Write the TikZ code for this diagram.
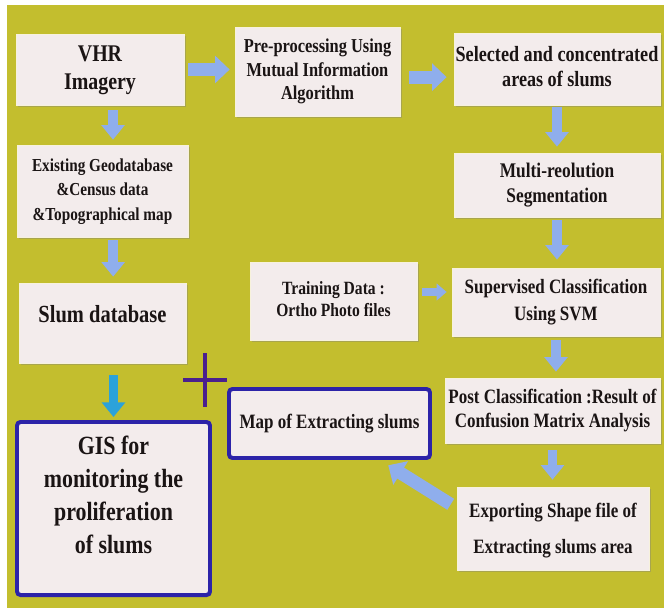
\documentclass[tikz,border=0pt]{standalone}
\usepackage{graphicx}
\usepackage{fontspec}
\setmainfont{Liberation Serif}
\usetikzlibrary{arrows.meta,shadows}
\definecolor{PageWhite}{HTML}{FFFFFF}
\definecolor{Olive}{HTML}{C3BE2E}
\definecolor{BoxFill}{HTML}{F3ECEC}
\definecolor{BoxEdge}{HTML}{F7F2DC}
\definecolor{InkBlack}{HTML}{1A1414}
\definecolor{ArrowBlue}{HTML}{8FAEEC}
\definecolor{FrameBlue}{HTML}{2C23A8}
\definecolor{CyanArrow}{HTML}{2BA2DA}
\definecolor{PlusPurple}{HTML}{4A1F8E}
% taller lettering, as in the slide
\newcommand{\tallcell}[1]{\scalebox{1}[1.2]{\begin{tabular}{@{}c@{}}#1\end{tabular}}}

\begin{document}
\begin{tikzpicture}[x=0.03cm, y=-0.03cm]
  \tikzstyle{card} = [rectangle, draw=BoxEdge, line width=0.6pt, fill=BoxFill, inner sep=0pt, align=center, text=InkBlack, drop shadow={shadow xshift=1.5pt, shadow yshift=-1.5pt, opacity=0.4}]
  \tikzstyle{framed} = [card, draw=FrameBlue, line width=3.4pt, rounded corners=3pt]
  \tikzstyle{flowdown} = [draw=ArrowBlue, line width=8.5pt, -{Triangle[width=19.5pt, length=12.5pt]}]
  \tikzstyle{flowright} = [draw=ArrowBlue, line width=11pt, -{Triangle[width=23pt, length=12.5pt]}]
  \tikzstyle{flowsmall} = [draw=ArrowBlue, line width=6.5pt, -{Triangle[width=14pt, length=8.5pt]}]

  % page and backdrop
  \fill[PageWhite] (0,0) rectangle (664,611);
  \fill[Olive] (7,5) rectangle (664,608);
  \useasboundingbox (0,0) rectangle (664,611);

  % left column
  \node [card, minimum width=5.04cm, minimum height=2.13cm, font=\bfseries\fontsize{17}{20}\selectfont] (vhr) at (100,69.5) {\tallcell{VHR\\Imagery}};
  \node [card, minimum width=5.13cm, minimum height=2.76cm, font=\bfseries\fontsize{13}{17.5}\selectfont] (exist) at (102.5,191) {\tallcell{Existing Geodatabase\\\&Census data\\\&Topographical map}};
  \node [card, minimum width=5.01cm, minimum height=2.4cm, font=\bfseries\fontsize{17.5}{20}\selectfont] (slum) at (102.5,323) {\tallcell{Slum database\\[0.3cm]}};
  \node [framed, minimum width=5.79cm, minimum height=5.19cm, font=\bfseries\fontsize{18.7}{23.3}\selectfont] (gis) at (113.5,508.5) {\tallcell{GIS for\\monitoring the\\proliferation\\of slums\\[0.55cm]}};

  % middle column
  \node [card, minimum width=4.95cm, minimum height=2.67cm, font=\bfseries\fontsize{14}{16.7}\selectfont] (pre) at (317.5,71.5) {\tallcell{Pre-processing Using\\Mutual Information\\Algorithm}};
  \node [card, minimum width=5.01cm, minimum height=2.34cm, font=\bfseries\fontsize{13.3}{15.4}\selectfont] (train) at (333.5,301) {\tallcell{Training Data :\\Ortho Photo files}};
  \node [framed, minimum width=6.03cm, minimum height=2.07cm, font=\bfseries\fontsize{14.5}{17.5}\selectfont] (map) at (329.5,423.5) {\tallcell{Map of Extracting slums}};

  % right column
  \node [card, minimum width=6.18cm, minimum height=2.16cm, font=\bfseries\fontsize{15.5}{17.5}\selectfont] (sel) at (557,69) {\tallcell{Selected and concentrated\\areas of slums}};
  \node [card, minimum width=6.18cm, minimum height=1.92cm, font=\bfseries\fontsize{14.8}{17.5}\selectfont] (multi) at (557,185) {\tallcell{Multi-reolution\\Segmentation}};
  \node [card, minimum width=6.24cm, minimum height=2.04cm, font=\bfseries\fontsize{14.5}{19.2}\selectfont] (svm) at (556,302) {\tallcell{Supervised Classification\\Using SVM}};
  \node [card, minimum width=6.45cm, minimum height=1.95cm, font=\bfseries\fontsize{14.5}{17.5}\selectfont] (post) at (552.5,410.5) {\tallcell{Post Classification :Result of\\Confusion Matrix Analysis}};
  \node [card, minimum width=5.76cm, minimum height=2.49cm, font=\bfseries\fontsize{14.5}{25}\selectfont] (exp) at (553,528.5) {\tallcell{Exporting Shape file of\\Extracting slums area}};

  % block arrows
  \draw[flowright, shorten <=0.12cm, shorten >=0.15cm] (vhr.east) -- (vhr.east -| pre.west);
  \draw[flowright, shorten <=0.27cm, shorten >=0.21cm] ([yshift=-0.17cm]pre.east) -- ([yshift=-0.17cm]pre.east -| sel.west);
  \draw[flowsmall, shorten <=0.15cm, shorten >=0.15cm] ([yshift=0.27cm]train.east) -- ([yshift=0.27cm]train.east -| svm.west);
  \draw[flowdown, shorten <=0.15cm, shorten >=0.15cm] ([xshift=0.39cm]vhr.south) -- ([xshift=0.39cm]vhr.south |- exist.north);
  \draw[flowdown, shorten <=0.09cm, shorten >=0.18cm] ([xshift=0.32cm]exist.south) -- ([xshift=0.32cm]exist.south |- slum.north);
  \draw[flowdown, shorten <=0.06cm, shorten >=0.18cm] (sel.south) -- (multi.north);
  \draw[flowdown, shorten <=0.09cm, shorten >=0.24cm] (multi.south) -- (multi.south |- svm.north);
  \draw[flowdown, shorten <=0.12cm, shorten >=0.18cm] (svm.south) -- (svm.south |- post.north);
  \draw[flowdown, shorten <=0.21cm, shorten >=0.21cm] (post.south) -- (post.south |- exp.north);
  \draw[flowdown, draw=CyanArrow, shorten <=0.36cm, shorten >=0.09cm] (gis.north |- slum.south) -- (gis.north);
  \draw[flowright, shorten <=0.21cm, shorten >=0.3cm] (exp.168) -- (map.-36);

  % plus sign
  \coordinate (plus) at (205,380);
  \draw[PlusPurple, line width=3.2pt] (plus) ++(-22,0) -- ++(44,0);
  \draw[PlusPurple, line width=3.2pt] (plus) ++(0,-27) -- ++(0,54);
\end{tikzpicture}
\end{document}
